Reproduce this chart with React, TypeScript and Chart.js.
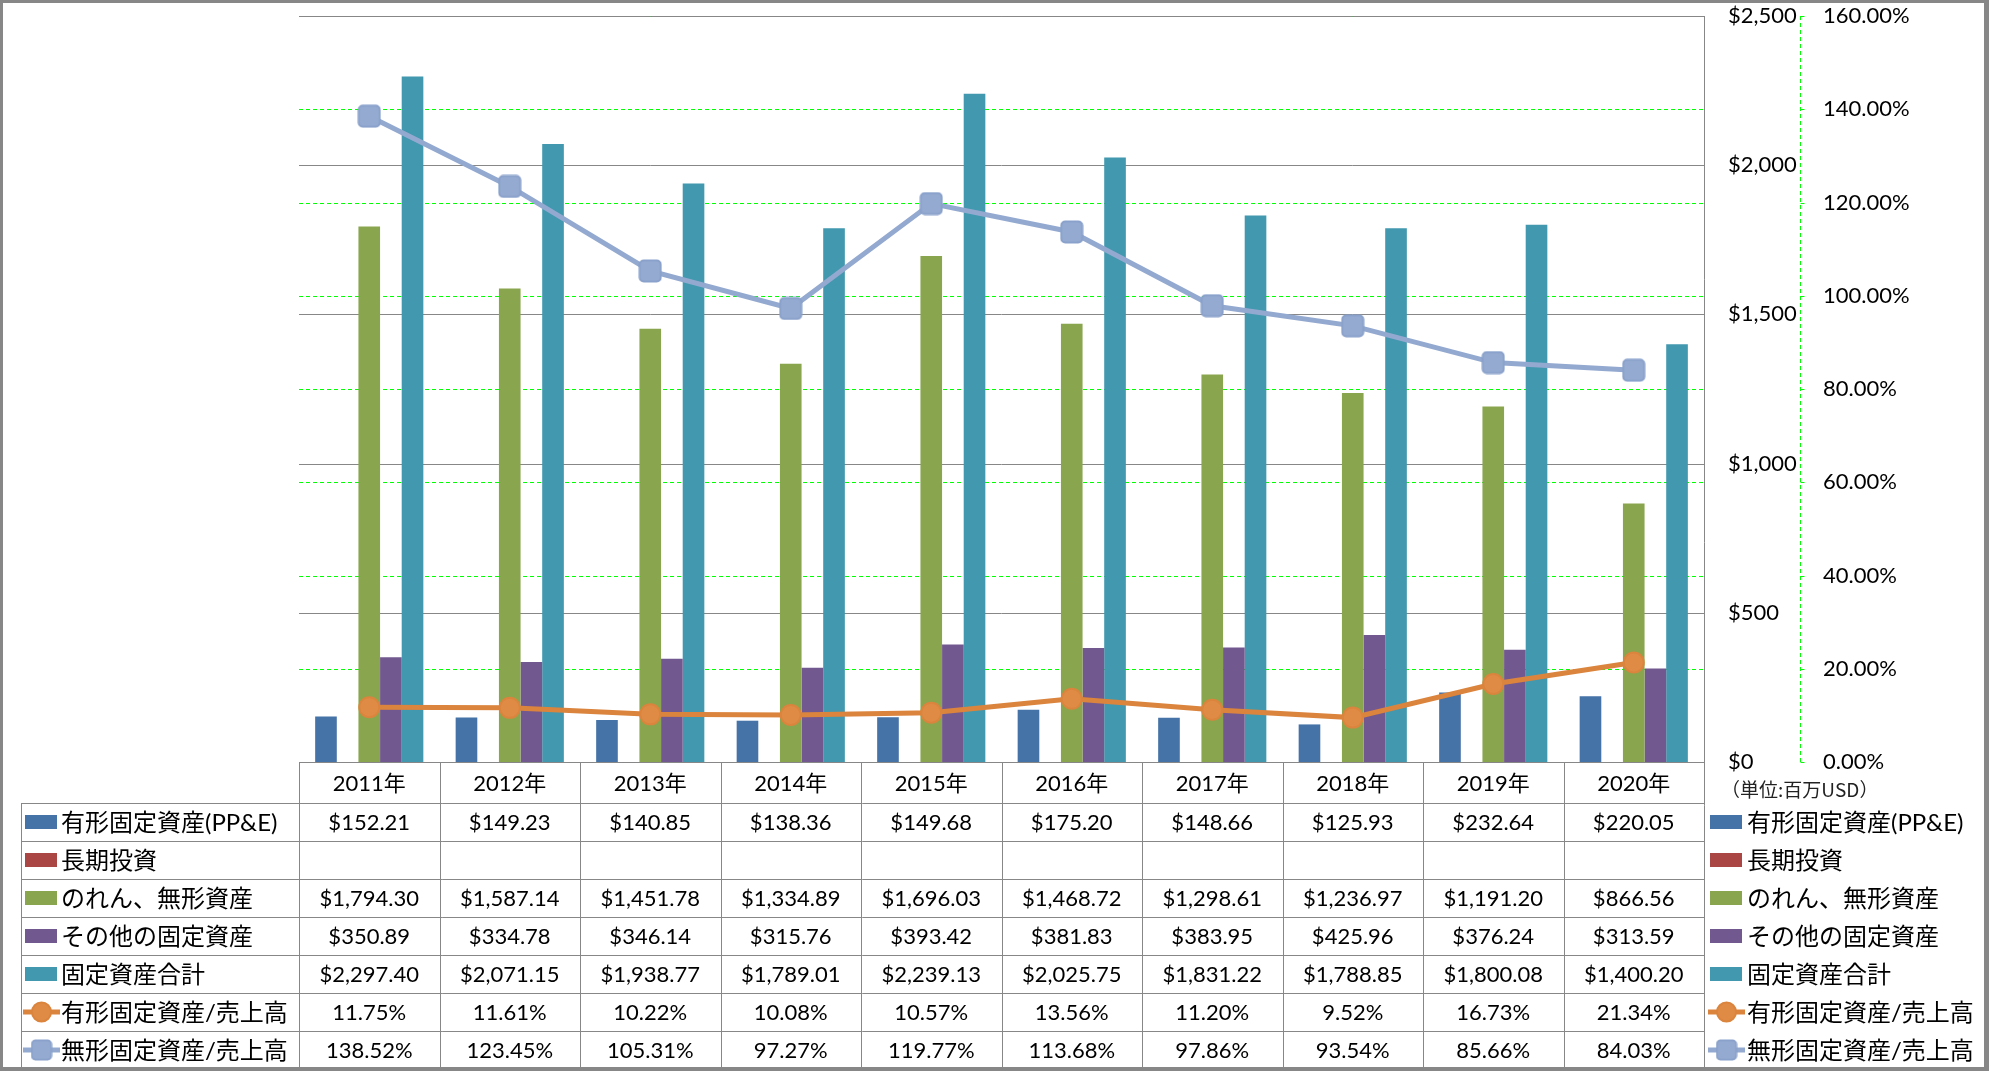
import React, { useEffect, useRef } from 'react';
import { Chart, registerables } from 'chart.js';
Chart.register(...registerables);

// ---------------- data ----------------
const years = ['2011年', '2012年', '2013年', '2014年', '2015年', '2016年', '2017年', '2018年', '2019年', '2020年'];
const ppe = [152.21, 149.23, 140.85, 138.36, 149.68, 175.2, 148.66, 125.93, 232.64, 220.05];
const longTermInvest: (number | null)[] = [null, null, null, null, null, null, null, null, null, null];
const goodwillIntangibles = [1794.3, 1587.14, 1451.78, 1334.89, 1696.03, 1468.72, 1298.61, 1236.97, 1191.2, 866.56];
const otherFixedAssets = [350.89, 334.78, 346.14, 315.76, 393.42, 381.83, 383.95, 425.96, 376.24, 313.59];
const totalFixedAssets = [2297.4, 2071.15, 1938.77, 1789.01, 2239.13, 2025.75, 1831.22, 1788.85, 1800.08, 1400.2];
const ppeToSales = [11.75, 11.61, 10.22, 10.08, 10.57, 13.56, 11.2, 9.52, 16.73, 21.34];
const intangibleToSales = [138.52, 123.45, 105.31, 97.27, 119.77, 113.68, 97.86, 93.54, 85.66, 84.03];
const dollarTicks = [0, 500, 1000, 1500, 2000, 2500];
const pctTicks = [0, 20, 40, 60, 80, 100, 120, 140, 160];
const seriesNames = [
  '有形固定資産(PP&E)',
  '長期投資',
  'のれん、無形資産',
  'その他の固定資産',
  '固定資産合計',
  '有形固定資産/売上高',
  '無形固定資産/売上高',
];
const unitLabel = '（単位:百万USD）';

// ---------------- styles ----------------
const BAR_COLORS = ['#4572A7', '#AA4643', '#89A54E', '#71588F', '#4198AF'];
const ORANGE = '#DB843D';
const ORANGE_FILL = '#DF8B46';
const LBLUE = '#93A9CF';
const GRAY = '#878787';
const GREEN = '#00FF00';
const NUM_FONT = '22px Lato, "Noto Sans CJK JP", sans-serif';
const LABEL_FONT = '24px Lato, "Noto Sans CJK JP", sans-serif';

const money = (v: number | null) =>
  v == null ? '' : '$' + v.toLocaleString('en-US', { minimumFractionDigits: 2, maximumFractionDigits: 2 });
const pct = (v: number | null) => (v == null ? '' : v.toFixed(2) + '%');

function makeSquare(size: number, fill: string, stroke: string) {
  const c = document.createElement('canvas');
  c.width = size;
  c.height = size;
  const g = c.getContext('2d')!;
  g.fillStyle = fill;
  g.strokeStyle = stroke;
  g.lineWidth = 2;
  g.beginPath();
  (g as any).roundRect(1.5, 1.5, size - 3, size - 3, 4);
  g.fill();
  g.stroke();
  return c;
}

export default function App() {
  const ref = useRef<HTMLCanvasElement>(null);

  useEffect(() => {
    document.body.style.margin = '0';
    document.body.style.overflow = 'hidden';
    const square = makeSquare(24, '#95AAD0', '#8AA1CB');

    const rows = [
      { name: seriesNames[0], kind: 'bar', color: BAR_COLORS[0], values: ppe, fmt: money },
      { name: seriesNames[1], kind: 'bar', color: BAR_COLORS[1], values: longTermInvest, fmt: money },
      { name: seriesNames[2], kind: 'bar', color: BAR_COLORS[2], values: goodwillIntangibles, fmt: money },
      { name: seriesNames[3], kind: 'bar', color: BAR_COLORS[3], values: otherFixedAssets, fmt: money },
      { name: seriesNames[4], kind: 'bar', color: BAR_COLORS[4], values: totalFixedAssets, fmt: money },
      { name: seriesNames[5], kind: 'circle', color: ORANGE, values: ppeToSales, fmt: pct },
      { name: seriesNames[6], kind: 'square', color: LBLUE, values: intangibleToSales, fmt: pct },
    ];

    const HEADER_H = 41;
    const ROW_H = 38;
    const TABLE_LEFT = 21;

    const drawKey = (ctx: CanvasRenderingContext2D, kind: string, color: string, x: number, cy: number) => {
      if (kind === 'bar') {
        ctx.fillStyle = color;
        ctx.fillRect(x + 2, cy - 7, 32, 14);
      } else {
        ctx.strokeStyle = color;
        ctx.lineWidth = 5;
        ctx.beginPath();
        ctx.moveTo(x, cy);
        ctx.lineTo(x + 37, cy);
        ctx.stroke();
        if (kind === 'circle') {
          ctx.fillStyle = ORANGE_FILL;
          ctx.strokeStyle = ORANGE;
          ctx.lineWidth = 2;
          ctx.beginPath();
          ctx.arc(x + 18.5, cy, 9.5, 0, Math.PI * 2);
          ctx.fill();
          ctx.stroke();
        } else {
          ctx.drawImage(square, x + 18.5 - 11, cy - 11, 22, 22);
        }
      }
    };

    // draw text spread to a target width (character by character)
    const drawSpread = (ctx: CanvasRenderingContext2D, text: string, x: number, y: number, target: number) => {
      const chars = Array.from(text);
      const widths = chars.map((c) => ctx.measureText(c).width);
      const total = widths.reduce((a, b) => a + b, 0);
      const gap = chars.length > 1 ? Math.max(0, (target - total) / (chars.length - 1)) : 0;
      let cx = x;
      ctx.textAlign = 'left';
      chars.forEach((c, i) => {
        ctx.fillText(c, cx, y);
        cx += widths[i] + gap;
      });
    };

    const excelPlugin = {
      id: 'excelPlugin',
      beforeDatasetsDraw(chart: any) {
        const { ctx, chartArea: ca, scales } = chart;
        ctx.save();
        ctx.lineWidth = 1;
        ctx.strokeStyle = GREEN;
        ctx.setLineDash([4, 3]);
        pctTicks.forEach((v) => {
          const py = Math.round(scales.y1.getPixelForValue(v)) + 0.5;
          ctx.beginPath();
          ctx.moveTo(ca.left, py);
          ctx.lineTo(ca.right, py);
          ctx.stroke();
        });
        ctx.setLineDash([]);
        ctx.strokeStyle = GRAY;
        dollarTicks.forEach((v) => {
          const py = Math.round(scales.y.getPixelForValue(v)) + 0.5;
          ctx.beginPath();
          ctx.moveTo(ca.left, py);
          ctx.lineTo(ca.right, py);
          ctx.stroke();
        });
        ctx.restore();
      },
      afterDraw(chart: any) {
        const { ctx, chartArea: ca, scales } = chart;
        const xs = scales.x;
        const n = years.length;
        const cw = ca.width / n;
        const top = ca.bottom;
        const bottom = top + HEADER_H + ROW_H * rows.length;
        ctx.save();

        // right axis: % axis line (dashed green) with ticks
        const axX = ca.right + 96.5;
        ctx.strokeStyle = GREEN;
        ctx.lineWidth = 1;
        ctx.setLineDash([4, 3]);
        ctx.beginPath();
        ctx.moveTo(axX, ca.top);
        ctx.lineTo(axX, ca.bottom);
        ctx.stroke();
        pctTicks.forEach((v) => {
          const py = Math.round(scales.y1.getPixelForValue(v)) + 0.5;
          ctx.beginPath();
          ctx.moveTo(axX, py);
          ctx.lineTo(axX + 7, py);
          ctx.stroke();
        });
        ctx.setLineDash([]);

        // tick labels
        ctx.fillStyle = '#000';
        ctx.font = NUM_FONT;
        ctx.textBaseline = 'middle';
        ctx.textAlign = 'left';
        dollarTicks.forEach((v) => {
          ctx.fillText('$' + v.toLocaleString('en-US'), ca.right + 24, scales.y.getPixelForValue(v));
        });
        pctTicks.forEach((v) => {
          ctx.fillText(v.toFixed(2) + '%', ca.right + 119, scales.y1.getPixelForValue(v));
        });
        ctx.font = '19px "Noto Sans CJK JP", sans-serif';
        ctx.fillStyle = '#222';
        drawSpread(ctx, unitLabel, ca.right + 17, top + 28, 152);

        // table grid
        ctx.strokeStyle = GRAY;
        ctx.lineWidth = 1;
        const rx = Math.round(ca.right) + 0.5;
        ctx.beginPath();
        ctx.moveTo(rx, ca.top);
        ctx.lineTo(rx, bottom);
        for (let i = 0; i < n; i++) {
          const ex = Math.round(xs.getPixelForValue(i) - cw / 2) + 0.5;
          ctx.moveTo(ex, top);
          ctx.lineTo(ex, bottom);
        }
        const ty = Math.round(top) + 0.5;
        ctx.moveTo(ca.left, ty);
        ctx.lineTo(ca.right, ty);
        for (let r = 0; r <= rows.length; r++) {
          const yy = Math.round(top + HEADER_H + r * ROW_H) + 0.5;
          ctx.moveTo(TABLE_LEFT + 0.5, yy);
          ctx.lineTo(ca.right, yy);
        }
        ctx.moveTo(TABLE_LEFT + 0.5, top + HEADER_H);
        ctx.lineTo(TABLE_LEFT + 0.5, bottom);
        ctx.stroke();

        // header
        ctx.fillStyle = '#000';
        ctx.font = NUM_FONT;
        ctx.textAlign = 'center';
        years.forEach((yr, i) => {
          ctx.fillText(yr, xs.getPixelForValue(i), top + HEADER_H / 2 + 1);
        });

        // rows
        rows.forEach((row, r) => {
          const cy = top + HEADER_H + r * ROW_H + ROW_H / 2 + 1;
          ctx.font = NUM_FONT;
          ctx.textAlign = 'center';
          ctx.fillStyle = '#000';
          row.values.forEach((v: number | null, i: number) => {
            ctx.fillText(row.fmt(v), xs.getPixelForValue(i), cy);
          });
          // left legend
          drawKey(ctx, row.kind, row.color, 23, cy - 1);
          // right legend
          drawKey(ctx, row.kind, row.color, ca.right + 4, cy - 1);
          ctx.font = LABEL_FONT;
          ctx.textAlign = 'left';
          ctx.fillStyle = '#000';
          ctx.fillText(row.name, 61, cy);
          ctx.fillText(row.name, ca.right + 43, cy);
        });

        // outer border
        ctx.strokeStyle = GRAY;
        ctx.strokeRect(0.5, 0.5, 1986, 1069);
        ctx.restore();
      },
    };

    const chart = new Chart(ref.current!, {
      type: 'bar',
      data: {
        labels: years,
        datasets: [
          { type: 'bar', label: seriesNames[0], data: ppe, backgroundColor: BAR_COLORS[0], yAxisID: 'y', order: 1 },
          { type: 'bar', label: seriesNames[1], data: longTermInvest, backgroundColor: BAR_COLORS[1], yAxisID: 'y', order: 1 },
          { type: 'bar', label: seriesNames[2], data: goodwillIntangibles, backgroundColor: BAR_COLORS[2], yAxisID: 'y', order: 1 },
          { type: 'bar', label: seriesNames[3], data: otherFixedAssets, backgroundColor: BAR_COLORS[3], yAxisID: 'y', order: 1 },
          { type: 'bar', label: seriesNames[4], data: totalFixedAssets, backgroundColor: BAR_COLORS[4], yAxisID: 'y', order: 1 },
          {
            type: 'line',
            label: seriesNames[5],
            data: ppeToSales,
            yAxisID: 'y1',
            borderColor: ORANGE,
            borderWidth: 5,
            pointStyle: 'circle',
            pointRadius: 10,
            pointBorderWidth: 2,
            pointBackgroundColor: ORANGE_FILL,
            pointBorderColor: ORANGE,
            tension: 0,
            order: 0,
          },
          {
            type: 'line',
            label: seriesNames[6],
            data: intangibleToSales,
            yAxisID: 'y1',
            borderColor: LBLUE,
            borderWidth: 5,
            pointStyle: square as any,
            pointRadius: 11,
            tension: 0,
            order: 0,
          },
        ] as any,
      },
      options: {
        responsive: false,
        animation: false,
        devicePixelRatio: 1,
        layout: { padding: { left: 299, right: 285, top: 15, bottom: 309 } },
        datasets: { bar: { categoryPercentage: 0.77, barPercentage: 1.0 } } as any,
        scales: {
          x: { type: 'category', offset: true, display: false },
          y: { type: 'linear', min: 0, max: 2500, display: false },
          y1: { type: 'linear', min: 0, max: 160, display: false, position: 'right' },
        },
        plugins: { legend: { display: false }, tooltip: { enabled: false } },
        events: [],
      },
      plugins: [excelPlugin],
    });
    return () => chart.destroy();
  }, []);

  return <canvas ref={ref} width={1989} height={1071} style={{ display: 'block', width: 1989, height: 1071 }} />;
}
